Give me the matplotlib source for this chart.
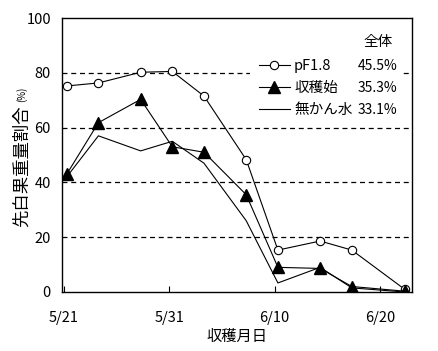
import matplotlib
matplotlib.use("Agg")
import matplotlib.pyplot as plt
from matplotlib.patches import Rectangle
import numpy as np

plt.rcParams['font.family'] = ['Noto Sans CJK JP', 'DejaVu Sans']

# harvest day counted from 5/21
days = [0, 3, 7, 10, 13, 17, 20, 24, 27, 32]
pf18 = [75.2, 76.3, 80.2, 80.5, 71.5, 48.3, 15.3, 18.6, 15.3, 1.0]
shukaku = [43.0, 61.8, 70.3, 53.0, 51.0, 35.5, 9.0, 8.6, 2.0, 0.3]
mukansui = [42.0, 57.0, 51.5, 55.0, 47.0, 26.0, 3.3, 9.0, 1.5, 0.0]

series_labels = ['pF1.8', '収穫始', '無かん水']
totals = ['45.5%', '35.3%', '33.1%']
tick_labels = ['5/21', '5/31', '6/10', '6/20']
tick_days = [0, 10, 20, 30]

fig = plt.figure(figsize=(4.39, 3.51), dpi=100)
ax = fig.add_axes([0.1412, 0.1681, 0.7973, 0.7806])

# dashed grid
for yv in [20, 40, 60, 80]:
    ax.axhline(yv, color='black', lw=0.9, ls=(0, (4, 3)), zorder=1)

# white box behind the legend block hides the grid there
ax.add_patch(Rectangle((0.537, 0.64), 0.437, 0.31, transform=ax.transAxes,
                       facecolor='white', edgecolor='none', zorder=1.5))

ax.plot(days, pf18, color='black', lw=0.8, marker='o', ms=6,
        mfc='white', mec='black', mew=0.8, label=series_labels[0], zorder=3)
ax.plot(days, shukaku, color='black', lw=0.8, marker='^', ms=8.5,
        mfc='black', mec='black', label=series_labels[1], zorder=3)
ax.plot(days, mukansui, color='black', lw=0.8, label=series_labels[2], zorder=2)

ax.set_xlim(-0.45, 32.7)
ax.set_ylim(0, 100)

# ticks sit slightly left of the sample dates
ax.set_xticks([d - 0.3 for d in tick_days])
ax.set_xticklabels(tick_labels, fontsize=10.5)
ax.tick_params(axis='x', direction='in', length=4, width=0.8, pad=14)
ax.set_yticks([0, 20, 40, 60, 80, 100])
ax.tick_params(axis='y', length=0, pad=8, labelsize=10.5)

for s in ax.spines.values():
    s.set_linewidth(1.0)

leg = ax.legend(loc='upper left', bbox_to_anchor=(0.563, 0.85), frameon=False,
                fontsize=10.5, handlelength=2.1, handletextpad=0.3,
                labelspacing=0.55, borderaxespad=0, borderpad=0)

ax.text(0.902, 0.912, '全体', transform=ax.transAxes, fontsize=10.5,
        ha='center', va='center')
for i, t in enumerate(totals):
    ax.text(0.846, 0.825 - i * 0.08, t, transform=ax.transAxes,
            fontsize=10, ha='left', va='center')

ax.set_xlabel('収穫月日', fontsize=11, labelpad=2)
fig.text(0.05, 0.527, '先白果重量割合', rotation=90, fontsize=12.5,
         ha='center', va='center')
fig.text(0.05, 0.732, '(%)', rotation=90, fontsize=7,
         ha='center', va='center')

fig.savefig('out.png', dpi=100)
